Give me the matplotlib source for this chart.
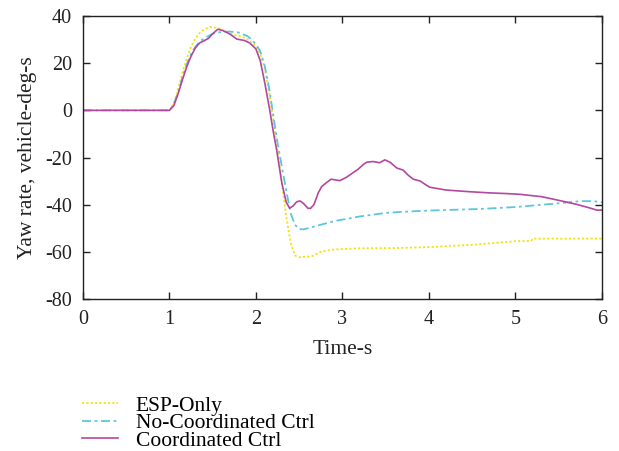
import matplotlib
matplotlib.use("Agg")
import matplotlib.pyplot as plt

plt.rcParams['font.family'] = ['Liberation Serif', 'DejaVu Serif']
plt.rcParams['axes.unicode_minus'] = False

# ESP-Only
t_esp = [0, 1.0, 1.05, 1.1, 1.15, 1.2, 1.25, 1.3, 1.35, 1.4, 1.47, 1.55, 1.65, 1.75, 1.85, 1.95,
         2.0, 2.05, 2.1, 2.15, 2.2, 2.25, 2.3, 2.35, 2.4, 2.45, 2.5, 2.6, 2.65, 2.75, 2.9, 3.2,
         3.6, 4.0, 4.5, 5.0, 5.18, 5.2, 6.0]
y_esp = [0, 0, 3, 9, 16, 22, 27, 30.5, 32.8, 34.3, 35.3, 35, 33.5, 32, 31.2, 29,
         27, 24, 18, 8, -4, -17, -31, -45, -56, -61.5, -62.3, -62, -61.8, -60, -59, -58.5,
         -58.4, -58, -57, -55.5, -55.4, -54.4, -54.4]

# No-Coordinated Ctrl
t_noc = [0, 1.0, 1.05, 1.1, 1.15, 1.2, 1.25, 1.3, 1.35, 1.4, 1.5, 1.6, 1.7, 1.8, 1.9, 1.95,
         2.0, 2.05, 2.1, 2.15, 2.2, 2.25, 2.3, 2.35, 2.4, 2.45, 2.5, 2.55, 2.7, 2.9, 3.2, 3.5,
         3.7, 4.0, 4.6, 5.0, 5.5, 5.75, 5.9, 6.0]
y_noc = [0, 0, 2.5, 7.5, 14, 19.5, 24, 27, 29.2, 30.5, 32.5, 33.3, 33.4, 33, 31.5, 30,
         28, 25, 19, 10, -2, -14, -24, -34, -43.5, -48.5, -50.3, -50.5, -49, -47, -45, -43.5,
         -43, -42.5, -41.8, -41, -39.4, -38.5, -38.5, -39]

# Coordinated Ctrl
t_co = [0, 1.0, 1.05, 1.1, 1.15, 1.2, 1.25, 1.3, 1.35, 1.4, 1.45, 1.5, 1.56, 1.62, 1.7, 1.78,
        1.87, 1.93, 2.0, 2.05, 2.1, 2.16, 2.2, 2.24, 2.3, 2.35, 2.39, 2.43, 2.47, 2.51, 2.55,
        2.6, 2.63, 2.67, 2.72, 2.76, 2.82, 2.87, 2.92, 2.97, 3.05, 3.12, 3.18, 3.24, 3.28,
        3.35, 3.43, 3.49, 3.55, 3.63, 3.7, 3.76, 3.82, 3.9, 3.96, 4.01, 4.2, 4.47, 4.7, 4.9,
        5.05, 5.3, 5.48, 5.7, 5.85, 5.94, 6.0]
y_co = [0, 0, 2, 7, 13, 18.5, 23, 26.5, 28.6, 29.5, 30.5, 32.5, 34.4, 33.8, 32.3, 30.2,
        29.6, 28.5, 26, 21, 12, 0, -9, -17, -31, -39, -41.5, -40.5, -38.8, -38.4, -39.5,
        -41.5, -41.6, -40, -35, -32.3, -30.5, -29.2, -29.5, -29.8, -28.3, -26.5, -25, -23, -22,
        -21.7, -22.2, -21, -22, -24.5, -25.3, -27.5, -29.2, -30, -31.5, -32.6, -33.8, -34.5, -35.0, -35.3,
        -35.6, -36.6, -38, -39.8, -41.3, -42.3, -42.3]

labels = ['ESP-Only', 'No-Coordinated Ctrl', 'Coordinated Ctrl']
xticks = [0, 1, 2, 3, 4, 5, 6]
yticks = [-80, -60, -40, -20, 0, 20, 40]

fig = plt.figure(figsize=(6.19, 4.51), dpi=100)
ax = fig.add_axes([0.134, 0.337, 0.8385, 0.6275])

ax.plot(t_esp, y_esp, color='#f2e40e', lw=1.3, linestyle=(0, (1.2, 1.2)), label=labels[0])
ax.plot(t_noc, y_noc, color='#5cc6dc', lw=1.3, linestyle=(0, (5, 2, 1.5, 2)), label=labels[1])
ax.plot(t_co, y_co, color='#b4479e', lw=1.2, linestyle='-', label=labels[2])

ax.set_xlim(0, 6)
ax.set_ylim(-80, 40)
ax.set_xticks(xticks)
ax.set_yticks(yticks)
ax.tick_params(direction='in', top=True, right=True, length=5, width=1,
               labelsize=14.5, colors='#222222', pad=8)
for s in ax.spines.values():
    s.set_color('#222222')
    s.set_linewidth(1.0)

ax.set_xlabel('Time-s', fontsize=15.5, color='#222222', labelpad=8)
ax.set_ylabel('Yaw rate, vehicle-deg-s', fontsize=15.5, color='#222222', labelpad=6)

fig.legend(loc='upper left', bbox_to_anchor=(0.132, 0.123), frameon=False,
           fontsize=15.5, handlelength=1.7, handletextpad=0.8, labelspacing=-0.12,
           borderaxespad=0, borderpad=0)

fig.savefig('out.png', dpi=100)
